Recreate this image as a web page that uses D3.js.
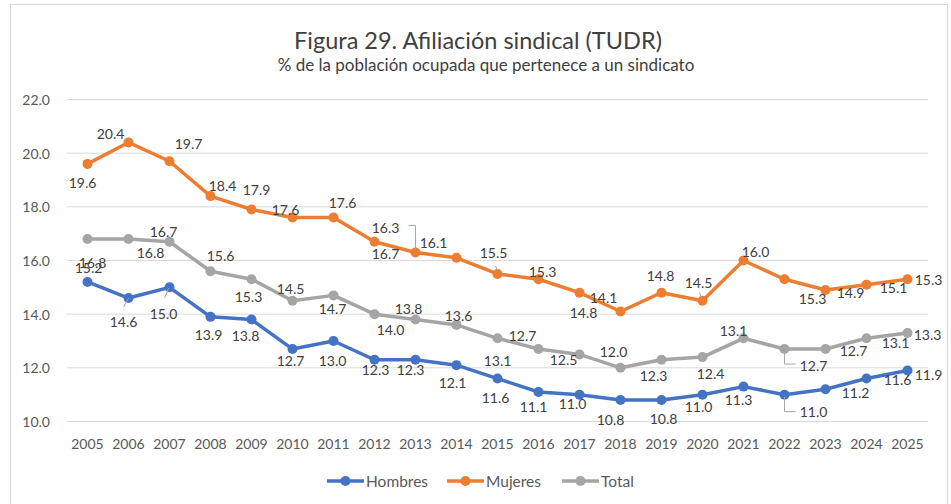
<!DOCTYPE html>
<html>
<head>
<meta charset="utf-8">
<script src="https://cdn.jsdelivr.net/npm/d3@7"></script>
<style>
  body { margin: 0; background: #fff; }
  svg { display: block; font-family: Lato, "Open Sans", sans-serif; }
</style>
</head>
<body>
<svg id="chart" width="951" height="504"></svg>
<script>
const years = ["2005", "2006", "2007", "2008", "2009", "2010", "2011", "2012", "2013", "2014", "2015",
    "2016", "2017", "2018", "2019", "2020", "2021", "2022", "2023", "2024", "2025"];
const hombres = [15.2, 14.6, 15.0, 13.9, 13.8, 12.7, 13.0, 12.3, 12.3, 12.1, 11.6,
    11.1, 11.0, 10.8, 10.8, 11.0, 11.3, 11.0, 11.2, 11.6, 11.9];
const mujeres = [19.6, 20.4, 19.7, 18.4, 17.9, 17.6, 17.6, 16.7, 16.3, 16.1, 15.5,
    15.3, 14.8, 14.1, 14.8, 14.5, 16.0, 15.3, 14.9, 15.1, 15.3];
const total = [16.8, 16.8, 16.7, 15.6, 15.3, 14.5, 14.7, 14.0, 13.8, 13.6, 13.1,
    12.7, 12.5, 12.0, 12.3, 12.4, 13.1, 12.7, 12.7, 13.1, 13.3];
const yTicks = [10, 12, 14, 16, 18, 20, 22];

// where each data label sits relative to its point (the labels were moved by hand in the original)
const labelShift = {
    Hombres: [[1, -14], [-5, 23], [-6, 26], [-2, 18], [-6, 16], [-2, 11], [-1, 19], [1, 10], [-5, 10], [-4, 17], [-2, 19],
        [-5, 15], [-7, 9], [-10, 19], [2, 18], [-4, 12], [-5, 13], [29, 17], [30, 3], [31, 1], [21, 4]],
    Mujeres: [[-5, 19], [-18, -9], [19, -18], [12, -11], [5, -20], [-7, -8], [9, -15], [11, 12], [-30, -25], [-23, -15], [-4, -21],
        [4, -8], [4, 20], [-17, -14], [-1, -17], [-4, -18], [12, -9], [28, 19], [25, 2], [27, 3], [21, 0]],
    Total: [[5, 23], [22, 13], [-6, -10], [10, -16], [-3, 17], [-2, -12], [-1, 13], [16, 15], [-7, -11], [2, -9], [0, 22],
        [-16, -14], [-16, 5], [-7, -16], [-8, 16], [8, 16], [-10, -8], [29, 16], [28, 1], [29, 4], [20, 2]]
};
// leader lines, as offsets from the point
const leaders = [
    { series: "Mujeres", i: 8, pts: [[-7, -27], [0, -27], [0, -3]] },
    { series: "Mujeres", i: 10, pts: [[-2, -8], [0, -3]] },
    { series: "Mujeres", i: 15, pts: [[-3, -8], [-1, -3]] },
    { series: "Hombres", i: 1, pts: [[-5, 9], [0, 0]] },
    { series: "Hombres", i: 2, pts: [[-5, 11], [-1, 1]] },
    { series: "Total", i: 17, pts: [[0, 2], [0, 15], [11, 15]] },
    { series: "Hombres", i: 17, pts: [[0, 2], [0, 17], [11, 17]] }
];

const series = [
    { name: "Hombres", values: hombres, colour: "#4472C4" },
    { name: "Mujeres", values: mujeres, colour: "#ED7D31" },
    { name: "Total", values: total, colour: "#A5A5A5" }
];

const svg = d3.select("#chart");
const plot = { left: 67, right: 928, top: 99.5, bottom: 421.5 };

svg.append("rect")
    .attr("x", 10.5).attr("y", 4.5)
    .attr("width", 937).attr("height", 540)
    .attr("fill", "#fff")
    .attr("stroke", "#d9d9d9");

const x = d3.scaleBand().domain(years).range([plot.left, plot.right]);
const y = d3.scaleLinear().domain([10, 22]).range([plot.bottom, plot.top]);
const cx = d => x(d) + x.bandwidth() / 2;

// gridlines + y labels
svg.append("g")
    .selectAll("line")
    .data(yTicks)
    .join("line")
    .attr("x1", plot.left).attr("x2", plot.right)
    .attr("y1", d => y(d)).attr("y2", d => y(d))
    .attr("stroke", "#d9d9d9")
    .attr("stroke-width", 1);

svg.append("g")
    .selectAll("text")
    .data(yTicks)
    .join("text")
    .attr("x", 50)
    .attr("y", d => y(d))
    .attr("text-anchor", "end")
    .attr("dominant-baseline", "central")
    .attr("font-size", 14)
    .attr("fill", "#595959")
    .text(d => d.toFixed(1));

svg.append("g")
    .selectAll("text")
    .data(years)
    .join("text")
    .attr("x", d => cx(d))
    .attr("y", 443)
    .attr("text-anchor", "middle")
    .attr("dominant-baseline", "central")
    .attr("font-size", 14)
    .attr("fill", "#595959")
    .text(d => d);

// lines and markers
const line = d3.line()
    .x((d, i) => cx(years[i]))
    .y(d => y(d));

series.forEach(s => {
    const g = svg.append("g");
    g.append("path")
        .attr("d", line(s.values))
        .attr("fill", "none")
        .attr("stroke", s.colour)
        .attr("stroke-width", 3.5)
        .attr("stroke-linejoin", "round");
    g.selectAll("circle")
        .data(s.values)
        .join("circle")
        .attr("cx", (d, i) => cx(years[i]))
        .attr("cy", d => y(d))
        .attr("r", 5)
        .attr("fill", s.colour);
});

// leader lines
const valuesOf = {};
series.forEach(s => valuesOf[s.name] = s.values);
svg.append("g")
    .selectAll("path")
    .data(leaders)
    .join("path")
    .attr("d", d => {
        const px = cx(years[d.i]), py = y(valuesOf[d.series][d.i]);
        return d3.line()(d.pts.map(p => [px + p[0], py + p[1]]));
    })
    .attr("fill", "none")
    .attr("stroke", "#a6a6a6")
    .attr("stroke-width", 1);

// data labels
series.forEach(s => {
    svg.append("g")
        .selectAll("text")
        .data(s.values)
        .join("text")
        .attr("x", (d, i) => cx(years[i]) + labelShift[s.name][i][0])
        .attr("y", (d, i) => y(d) + labelShift[s.name][i][1])
        .attr("text-anchor", "middle")
        .attr("dominant-baseline", "central")
        .attr("font-size", 14)
        .attr("fill", "#404040")
        .text(d => d.toFixed(1));
});

// titles
svg.append("text")
    .attr("x", 478).attr("y", 40)
    .attr("text-anchor", "middle")
    .attr("dominant-baseline", "central")
    .attr("font-size", 23.5)
    .attr("fill", "#404040")
    .text("Figura 29. Afiliación sindical (TUDR)");

svg.append("text")
    .attr("x", 486).attr("y", 64)
    .attr("text-anchor", "middle")
    .attr("dominant-baseline", "central")
    .attr("font-size", 17)
    .attr("fill", "#404040")
    .text("% de la población ocupada que pertenece a un sindicato");

// legend
const legendX = [327, 447, 562];
const legend = svg.append("g");
series.forEach((s, i) => {
    const lx = legendX[i];
    legend.append("line")
        .attr("x1", lx).attr("x2", lx + 37)
        .attr("y1", 481).attr("y2", 481)
        .attr("stroke", s.colour)
        .attr("stroke-width", 3.5);
    legend.append("circle")
        .attr("cx", lx + 18.5).attr("cy", 481)
        .attr("r", 5)
        .attr("fill", s.colour);
    legend.append("text")
        .attr("x", lx + 39).attr("y", 481)
        .attr("dominant-baseline", "central")
        .attr("font-size", 15.5)
        .attr("fill", "#595959")
        .text(s.name);
});
</script>
</body>
</html>
